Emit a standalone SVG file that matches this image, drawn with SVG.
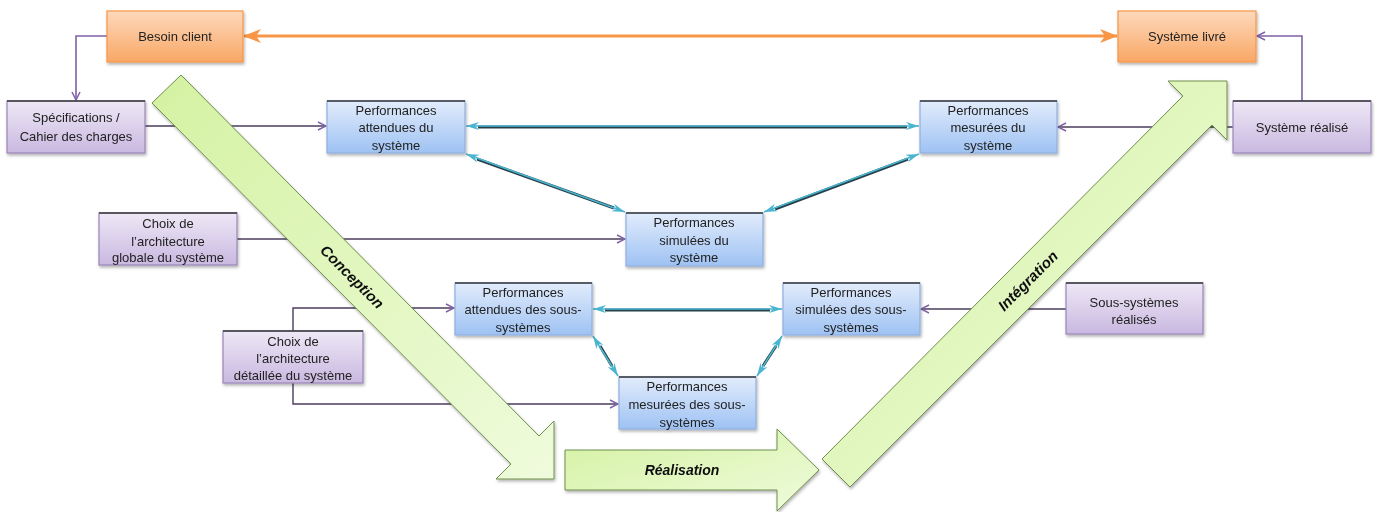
<svg xmlns="http://www.w3.org/2000/svg" width="1375" height="512" viewBox="0 0 1375 512">
<style>
text{font-family:"Liberation Sans",Arial,sans-serif;font-size:13px;fill:#222;text-anchor:middle}
.lbl{font-weight:bold;font-style:italic;font-size:15px;fill:#111}
.org{fill:url(#gOrange);stroke:#f79646;stroke-width:1.2}
.pur{fill:url(#gPurple);stroke:#9a86b8;stroke-width:1.2}
.blu{fill:url(#gBlue);stroke:#8fb0e0;stroke-width:1.2}
.top{stroke:#3a3a3a;stroke-width:1.6}
.pl{fill:none;stroke:#4a3c5c;stroke-width:1.4;marker-end:url(#mPur)}
.pl2{fill:none;stroke:#7f62a8;stroke-width:1.6;marker-end:url(#mPur)}
.cyd{fill:none;stroke:#27414a;stroke-width:3}
.cy{fill:none;stroke:#4bb5d0;stroke-width:1.6;marker-end:url(#mCy);marker-start:url(#mCy)}
.grn{fill:url(#gGreen);stroke:#6f8f4c;stroke-width:1}
</style>
<defs>
<linearGradient id="gOrange" x1="0" y1="0" x2="0" y2="1"><stop offset="0" stop-color="#fdd9bc"/><stop offset="1" stop-color="#f9a765"/></linearGradient>
<linearGradient id="gPurple" x1="0" y1="0" x2="0" y2="1"><stop offset="0" stop-color="#eee8f6"/><stop offset="1" stop-color="#c9b8e0"/></linearGradient>
<linearGradient id="gBlue" x1="0" y1="0" x2="0" y2="1"><stop offset="0" stop-color="#e2ecfc"/><stop offset="1" stop-color="#9ec2f3"/></linearGradient>
<linearGradient id="gGreen" x1="0" y1="0" x2="1" y2="1"><stop offset="0" stop-color="#d4f2a2"/><stop offset="1" stop-color="#effbdc"/></linearGradient>
<filter id="sh" x="-10%" y="-10%" width="130%" height="140%"><feDropShadow dx="1" dy="2" stdDeviation="1.5" flood-color="#000" flood-opacity="0.3"/></filter>
<marker id="mPur" viewBox="0 0 10 10" refX="9" refY="5" markerWidth="10" markerHeight="10" markerUnits="userSpaceOnUse" orient="auto"><path d="M1,1 L9,5 L1,9" fill="none" stroke="#7f62a8" stroke-width="1.5"/></marker>
<marker id="mCy" viewBox="0 0 14 10" refX="13" refY="5" markerWidth="14" markerHeight="10" markerUnits="userSpaceOnUse" orient="auto-start-reverse"><path d="M0,1 L13,5 L0,9 L4,5 z" fill="#4bb5d0"/></marker>
<marker id="mOr" viewBox="0 0 18 14" refX="17" refY="7" markerWidth="18" markerHeight="14" markerUnits="userSpaceOnUse" orient="auto-start-reverse"><path d="M0,0 L18,7 L0,14 L5,7 z" fill="#f79646"/></marker>
</defs>
<rect width="1375" height="512" fill="#fff"/>

<g id="connectors">
<polyline class="pl2" points="107,36 76,36 76,100"/>
<polyline class="pl2" points="1302,101 1302,36 1257,36"/>
<line class="pl" x1="145" y1="126" x2="326" y2="126"/>
<line class="pl" x1="1233" y1="127" x2="1058" y2="127"/>
<line class="pl" x1="237" y1="239" x2="625" y2="239"/>
<polyline class="pl" points="293,331 293,308 454,308"/>
<polyline class="pl" points="293,383 293,404 618,404"/>
<line class="pl" x1="1066" y1="309" x2="921" y2="309"/>
<line x1="244" y1="36" x2="1117" y2="36" stroke="#f79646" stroke-width="3" marker-start="url(#mOr)" marker-end="url(#mOr)"/>
<g>
<line class="cyd" x1="478" y1="127" x2="907" y2="127"/>
<line class="cy" x1="466" y1="126" x2="919" y2="126"/>
</g>
<g>
<line class="cyd" x1="477" y1="159" x2="614" y2="208"/>
<line class="cy" x1="466" y1="154" x2="625" y2="212"/>
</g>
<g>
<line class="cyd" x1="775" y1="209" x2="908" y2="159"/>
<line class="cy" x1="764" y1="212" x2="919" y2="154"/>
</g>
<g>
<line class="cyd" x1="605" y1="310" x2="770" y2="310"/>
<line class="cy" x1="593" y1="309" x2="782" y2="309"/>
</g>
<g>
<line class="cyd" x1="600" y1="346" x2="612" y2="366"/>
<line class="cy" x1="593" y1="336" x2="618" y2="376"/>
</g>
<g>
<line class="cyd" x1="776" y1="346" x2="763" y2="366"/>
<line class="cy" x1="782" y1="336" x2="757" y2="376"/>
</g>
</g>

<g id="besoin-client" filter="url(#sh)">
<rect class="org" x="107" y="11" width="136" height="51"/>
<text x="175" y="41">Besoin client</text>
</g>
<g id="systeme-livre" filter="url(#sh)">
<rect class="org" x="1118" y="11" width="138" height="51"/>
<text x="1187" y="41">Système livré</text>
</g>
<g id="specifications" filter="url(#sh)">
<rect class="pur" x="7" y="101" width="138" height="52"/>
<line class="top" x1="7" y1="101" x2="145" y2="101"/>
<text x="76" y="122">Spécifications /</text>
<text x="76" y="141">Cahier des charges</text>
</g>
<g id="systeme-realise" filter="url(#sh)">
<rect class="pur" x="1233" y="101" width="138" height="52"/>
<line class="top" x1="1233" y1="101" x2="1371" y2="101"/>
<text x="1302" y="132">Système réalisé</text>
</g>
<g id="perf-attendues-systeme" filter="url(#sh)">
<rect class="blu" x="327" y="101" width="138" height="52"/>
<line class="top" x1="327" y1="101" x2="465" y2="101"/>
<text x="396" y="115">Performances</text>
<text x="396" y="132">attendues du</text>
<text x="396" y="150">système</text>
</g>
<g id="perf-mesurees-systeme" filter="url(#sh)">
<rect class="blu" x="920" y="101" width="137" height="52"/>
<line class="top" x1="920" y1="101" x2="1057" y2="101"/>
<text x="988" y="115">Performances</text>
<text x="988" y="132">mesurées du</text>
<text x="988" y="150">système</text>
</g>
<g id="perf-simulees-systeme" filter="url(#sh)">
<rect class="blu" x="626" y="213" width="137" height="53"/>
<line class="top" x1="626" y1="213" x2="763" y2="213"/>
<text x="694" y="227">Performances</text>
<text x="694" y="245">simulées du</text>
<text x="694" y="262">système</text>
</g>
<g id="choix-globale" filter="url(#sh)">
<rect class="pur" x="99" y="213" width="138" height="52"/>
<line class="top" x1="99" y1="213" x2="237" y2="213"/>
<text x="168" y="228">Choix de</text>
<text x="168" y="246">l’architecture</text>
<text x="168" y="262">globale du système</text>
</g>
<g id="choix-detaillee" filter="url(#sh)">
<rect class="pur" x="223" y="331" width="140" height="52"/>
<line class="top" x1="223" y1="331" x2="363" y2="331"/>
<text x="293" y="346">Choix de</text>
<text x="293" y="363">l’architecture</text>
<text x="293" y="380">détaillée du système</text>
</g>
<g id="perf-attendues-ss" filter="url(#sh)">
<rect class="blu" x="455" y="283" width="137" height="52"/>
<line class="top" x1="455" y1="283" x2="592" y2="283"/>
<text x="523" y="297">Performances</text>
<text x="523" y="314">attendues des sous-</text>
<text x="523" y="332">systèmes</text>
</g>
<g id="perf-simulees-ss" filter="url(#sh)">
<rect class="blu" x="783" y="283" width="137" height="52"/>
<line class="top" x1="783" y1="283" x2="920" y2="283"/>
<text x="851" y="297">Performances</text>
<text x="851" y="314">simulées des sous-</text>
<text x="851" y="332">systèmes</text>
</g>
<g id="perf-mesurees-ss" filter="url(#sh)">
<rect class="blu" x="619" y="377" width="137" height="52"/>
<line class="top" x1="619" y1="377" x2="756" y2="377"/>
<text x="687" y="391">Performances</text>
<text x="687" y="409">mesurées des sous-</text>
<text x="687" y="427">systèmes</text>
</g>
<g id="sous-systemes-realises" filter="url(#sh)">
<rect class="pur" x="1066" y="283" width="137" height="51"/>
<line class="top" x1="1066" y1="283" x2="1203" y2="283"/>
<text x="1134" y="307">Sous-systèmes</text>
<text x="1134" y="324">réalisés</text>
</g>

<g id="conception" filter="url(#sh)">
<polygon class="grn" points="152,103 181,75 539,436 554,421 554,479 496,479 511,464"/>
<text class="lbl" transform="translate(352,277) rotate(45)" y="5">Conception</text>
</g>
<g id="realisation" filter="url(#sh)">
<polygon class="grn" points="565,450 777,450 777,429 819,470 777,511 777,490 565,490"/>
<text class="lbl" style="font-size:14px" x="682" y="475">Réalisation</text>
</g>
<g id="integration" filter="url(#sh)">
<polygon class="grn" points="822,459 1183,96 1168,81 1227,81 1227,140 1212,125 850,487"/>
<text class="lbl" transform="translate(1028,281) rotate(-45)" y="5">Intégration</text>
</g>
</svg>
